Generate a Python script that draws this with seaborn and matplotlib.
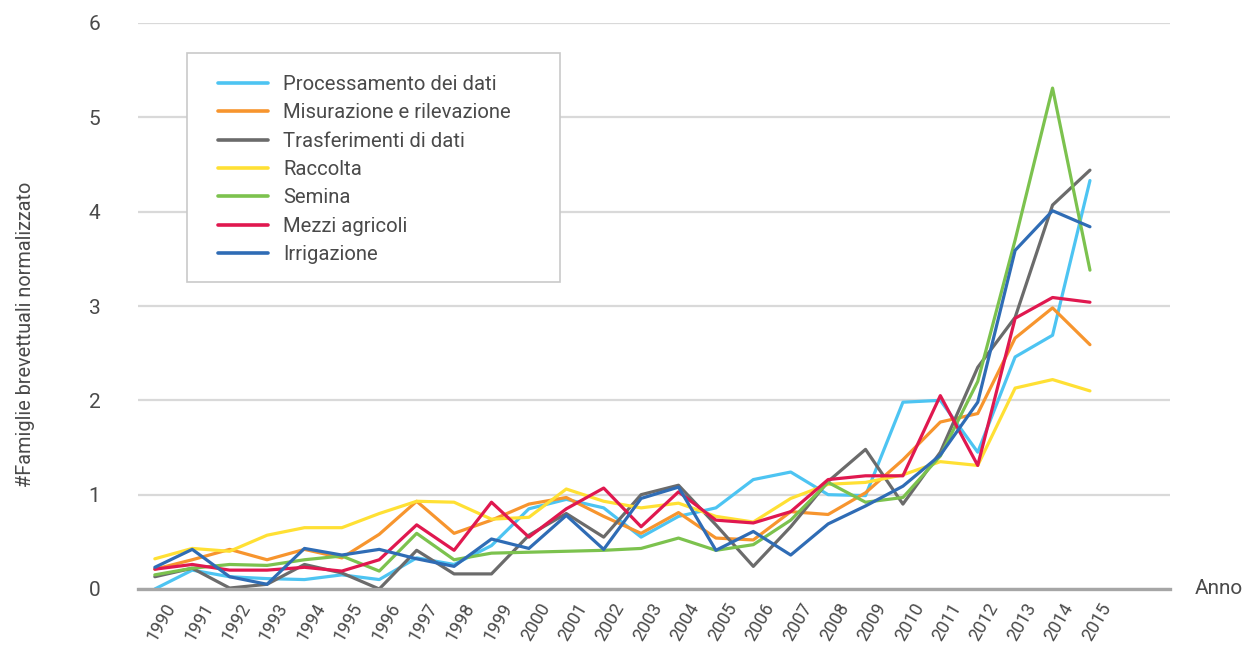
import matplotlib
matplotlib.use("Agg")
import matplotlib.pyplot as plt
import matplotlib.transforms as mtransforms
from matplotlib.patches import Rectangle
import pandas as pd
import seaborn as sns

# Patent families per technology area, normalised, 1990-2015
years = list(range(1990, 2016))

processamento_dati = [0.00, 0.20, 0.13, 0.11, 0.10, 0.15, 0.10, 0.33, 0.26, 0.46,
                      0.85, 0.95, 0.86, 0.55, 0.77, 0.86, 1.16, 1.24, 1.00, 0.99,
                      1.98, 2.00, 1.45, 2.46, 2.69, 4.33]
misurazione = [0.21, 0.31, 0.42, 0.31, 0.42, 0.33, 0.58, 0.93, 0.59, 0.73,
               0.90, 0.97, 0.77, 0.59, 0.81, 0.54, 0.52, 0.82, 0.79, 1.02,
               1.37, 1.77, 1.86, 2.66, 2.98, 2.59]
trasferimenti = [0.13, 0.22, 0.01, 0.05, 0.26, 0.17, 0.00, 0.41, 0.16, 0.16,
                 0.57, 0.80, 0.55, 1.00, 1.10, 0.68, 0.24, 0.66, 1.14, 1.48,
                 0.90, 1.45, 2.35, 2.88, 4.07, 4.44]
raccolta = [0.32, 0.43, 0.40, 0.57, 0.65, 0.65, 0.80, 0.93, 0.92, 0.74,
            0.76, 1.06, 0.93, 0.86, 0.91, 0.77, 0.71, 0.96, 1.11, 1.13,
            1.21, 1.35, 1.31, 2.13, 2.22, 2.10]
semina = [0.15, 0.22, 0.26, 0.25, 0.31, 0.35, 0.19, 0.59, 0.31, 0.38,
          0.39, 0.40, 0.41, 0.43, 0.54, 0.41, 0.47, 0.73, 1.13, 0.92,
          0.97, 1.41, 2.20, 3.70, 5.31, 3.38]
mezzi_agricoli = [0.21, 0.26, 0.20, 0.20, 0.23, 0.19, 0.31, 0.68, 0.41, 0.92,
                  0.55, 0.85, 1.07, 0.66, 1.03, 0.73, 0.70, 0.82, 1.16, 1.20,
                  1.20, 2.05, 1.31, 2.87, 3.09, 3.04]
irrigazione = [0.23, 0.42, 0.13, 0.05, 0.43, 0.36, 0.42, 0.32, 0.24, 0.53,
               0.43, 0.78, 0.42, 0.96, 1.08, 0.41, 0.61, 0.36, 0.69, 0.88,
               1.09, 1.42, 1.98, 3.59, 4.01, 3.84]

series_names = ["Processamento dei dati", "Misurazione e rilevazione",
                "Trasferimenti di dati", "Raccolta", "Semina",
                "Mezzi agricoli", "Irrigazione"]
series_values = [processamento_dati, misurazione, trasferimenti, raccolta,
                 semina, mezzi_agricoli, irrigazione]
series_colors = ["#4DC4F2", "#F7952E", "#6B6B6B", "#FFE034",
                 "#7CC24E", "#E0184F", "#2F6CB5"]

y_ticks = [0, 1, 2, 3, 4, 5, 6]
x_labels = [str(y) for y in years]

rows = []
for name, vals in zip(series_names, series_values):
    for yr, v in zip(years, vals):
        rows.append({"Anno": yr, "Valore": v, "Serie": name})
df = pd.DataFrame(rows)

sns.set_style("white")
plt.rcParams["font.family"] = ["Roboto", "DejaVu Sans"]

text_color = "#4a4a4a"

fig = plt.figure(figsize=(12.55, 6.5), dpi=100)
ax = fig.add_axes([138 / 1255, 1 - 589 / 650, (1170 - 138) / 1255, (589 - 23) / 650])

sns.lineplot(data=df, x="Anno", y="Valore", hue="Serie", hue_order=series_names,
             palette=series_colors, linewidth=2.3, ax=ax, legend=True)

ax.set_xlim(1989.55, 2017.14)
ax.set_ylim(0, 6)
ax.set_yticks(y_ticks)
ax.set_yticklabels([str(t) for t in y_ticks])
ax.set_xticks(years)
ax.set_xticklabels(x_labels)

ax.yaxis.grid(True, color="#d9d9d9", linewidth=1.6)
ax.xaxis.grid(False)
ax.set_axisbelow(True)
for side in ["left", "right", "top"]:
    ax.spines[side].set_visible(False)
ax.spines["bottom"].set_color("#a6a6a6")
ax.spines["bottom"].set_linewidth(2.4)

ax.tick_params(axis="y", length=0, pad=27, labelsize=15, labelcolor=text_color)
ax.tick_params(axis="x", length=0, pad=8, labelsize=13, labelcolor=text_color)

shift = mtransforms.ScaledTranslation(9 / 100, 0, fig.dpi_scale_trans)
for lab in ax.get_xticklabels():
    lab.set_rotation(60)
    lab.set_ha("right")
    lab.set_rotation_mode("anchor")
    lab.set_transform(lab.get_transform() + shift)

ax.set_ylabel("#Famiglie brevettuali normalizzato", fontsize=14.3, color=text_color)
ax.yaxis.set_label_coords(-0.100, 0.45)
ax.set_xlabel("Anno", fontsize=15, color=text_color, va="center", ha="center")
ax.xaxis.set_label_coords(1.047, 0.0)

# legend box
handles, labels = ax.get_legend_handles_labels()
ax.get_legend().remove()
box = Rectangle(((187 - 138) / 1032, (589 - 282) / 566), (560 - 187) / 1032,
                (282 - 53) / 566, transform=ax.transAxes, facecolor="white",
                edgecolor="#c9c9c9", linewidth=1.2, zorder=3)
ax.add_patch(box)
leg = ax.legend(handles, labels, loc="upper left",
                bbox_to_anchor=((218 - 138) / 1032, (589 - 75) / 566),
                frameon=False, fontsize=14.6, handlelength=2.48, handletextpad=0.72,
                labelspacing=0.46, borderaxespad=0, borderpad=0)
leg.set_zorder(4)
for t in leg.get_texts():
    t.set_color(text_color)
for h in leg.get_lines():
    h.set_linewidth(2.6)

fig.savefig("out.png", dpi=100)
